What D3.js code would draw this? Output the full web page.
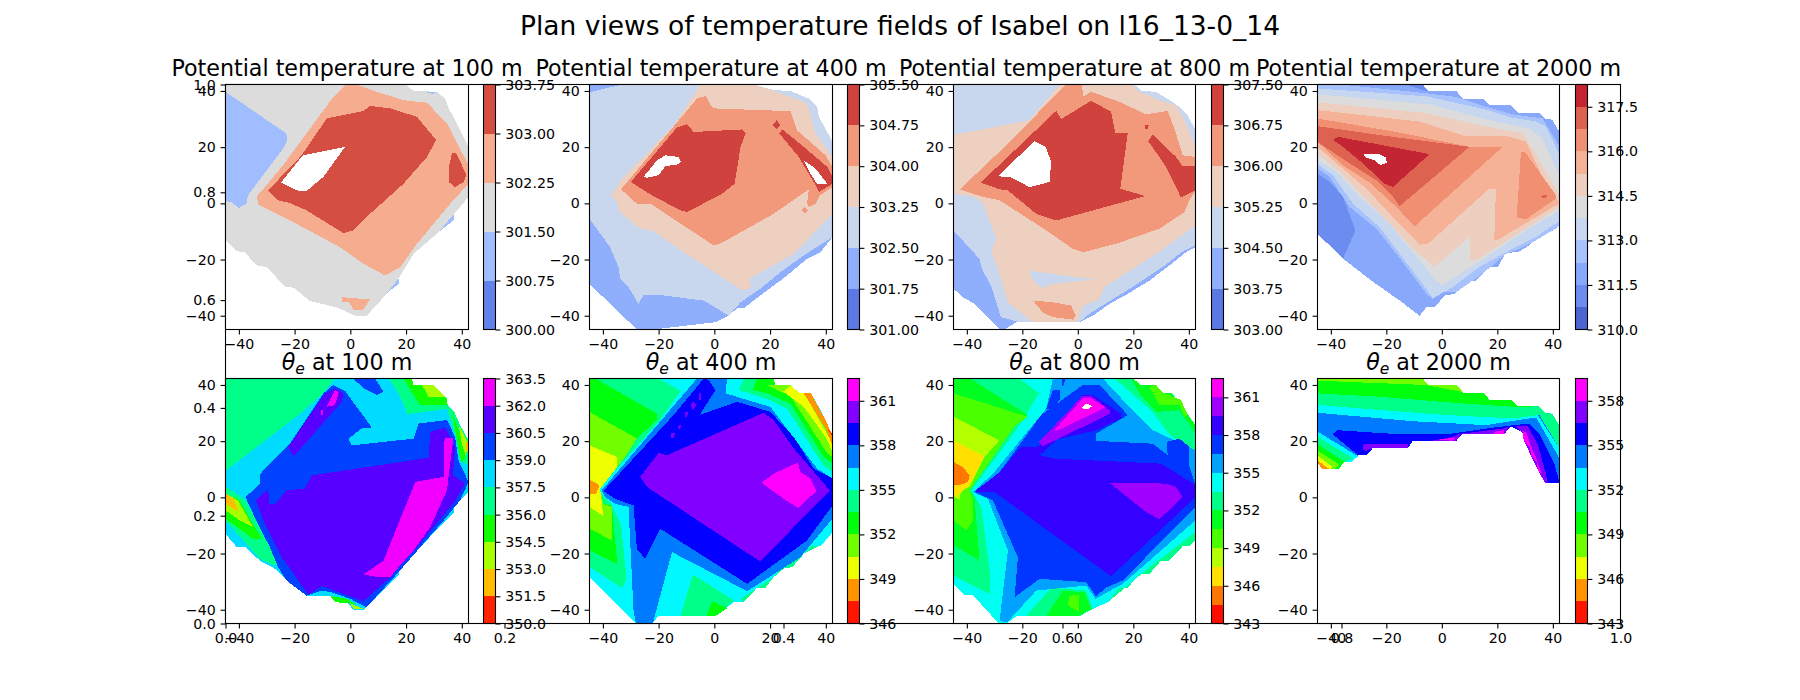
<!DOCTYPE html>
<html>
<head>
<meta charset="utf-8">
<script src="https://cdn.jsdelivr.net/npm/d3@7"></script>
<style>
  body { margin: 0; background: #fff; }
  text { font-family: "DejaVu Sans", sans-serif; fill: #000; }
  .tick line, .frame { stroke: #000; stroke-width: 1.1px; }
  .tick text { font-size: 14.2px; }
  .frame { fill: none; }
  .band { shape-rendering: crispEdges; }
</style>
</head>
<body>
<svg id="fig" width="1800" height="700"></svg>
<script>
// contour levels
var levelsT100 = [300, 300.75, 301.5, 302.25, 303, 303.75];
var levelsT400 = [301, 301.75, 302.5, 303.25, 304, 304.75, 305.5];
var levelsT800 = [303, 303.75, 304.5, 305.25, 306, 306.75, 307.5];
var levelsT2000 = [310, 310.75, 311.5, 312.25, 313, 313.75, 314.5, 315.25, 316, 316.75, 317.5, 318.25];
var levelsE100 = [350, 351.5, 353, 354.5, 356, 357.5, 359, 360.5, 362, 363.5];
var levelsE400 = [346, 347.5, 349, 350.5, 352, 353.5, 355, 356.5, 358, 359.5, 361, 362.5];
var levelsE800 = [343, 344.5, 346, 347.5, 349, 350.5, 352, 353.5, 355, 356.5, 358, 359.5, 361, 362.5];
var levelsE2000 = [343, 344.5, 346, 347.5, 349, 350.5, 352, 353.5, 355, 356.5, 358, 359.5];

var ticksT100 = levelsT100;
var ticksT400 = levelsT400;
var ticksT800 = levelsT800;
var ticksT2000 = [310, 311.5, 313, 314.5, 316, 317.5];
var ticksE100 = levelsE100;
var ticksE400 = [346, 349, 352, 355, 358, 361];
var ticksE800 = [343, 346, 349, 352, 355, 358, 361];
var ticksE2000 = [343, 346, 349, 352, 355, 358];

var mapTicks = [-40, -20, 0, 20, 40];
var backTicks = [0, 0.2, 0.4, 0.6, 0.8, 1];

// filled contours, painted in order: [band index, outline in km]. band -1 is missing data
var fieldT100 = [
  [2, [[-44.8,42.3],[19.7,42.3],[22.7,40],[31,39.7],[34,37.3],[35.3,33.8],[37.3,30.2],[40,24.9],[42.4,20.1],[42.4,2.3],[37.3,-3.7],[31.7,-10.2],[22.7,-18],[17.6,-26.3],[13,-32.2],[5.9,-40],[1.7,-40],[-4.9,-37],[-14.5,-34.8],[-20.3,-30],[-23.3,-29.8],[-30,-22.7],[-33.7,-22],[-37.9,-17.4],[-40.9,-17],[-44.8,-13.2]]],
  [1, [[-44.8,39.7],[-23,24.9],[-22.6,22.5],[-24.1,19.5],[-36.7,2.9],[-37.3,0],[-40,-1.7],[-42.7,0.5],[-44.8,0.8]]],
  [1, [[26.3,39.7],[31,39.7],[29.9,38.9]]],
  [1, [[37.3,-3.7],[37,-6.1],[31.7,-10.2]]],
  [1, [[17.6,-26.5],[17.3,-28.7],[12.8,-32.2]]],
  [3, [[-1.3,42.3],[2.3,42.3],[9.5,39.7],[19.1,36.7],[27.5,35.8],[34.7,28.4],[42.4,13.6],[42.4,7],[35.9,-0.1],[23.9,-14.4],[17.9,-22.7],[12.5,-25.7],[4.7,-21.5],[-3.7,-15.6],[-20.5,-6.7],[-26.5,-3.7],[-33.1,-0.4],[-33.5,2.5],[-24.1,13.6],[-6.1,37.9],[-3.1,40.9]]],
  [3, [[-3.1,-33.4],[7.1,-34.2],[4.7,-37.8],[1.1,-37.8],[-0.5,-35.2],[-3.1,-35.2]]],
  [4, [[-29.5,4.6],[-17.5,17.1],[-8.5,30.2],[4.7,32.9],[7.1,34.7],[14.3,33.8],[23.9,30.8],[30.8,22.5],[27.5,16.5],[19.1,7],[7.1,-3.7],[1.1,-9.6],[-2.5,-10.6],[-15.7,-2.5],[-21.7,0.1],[-25.9,1.1]]],
  [4, [[36.5,18],[37.9,18],[41.6,10.3],[40.7,7.6],[37.6,5.8],[35.3,7.6],[35.5,13.6]]],
  [-1, [[-24.9,7.4],[-17.1,17.1],[-1.9,20.1],[-9.7,9.4],[-15.7,4.4],[-19.3,4.6]]]
];

var fieldT400 = [
  [1, [[-44.8,42.3],[-5,42.3],[14.1,42.3],[21.3,40.3],[27.3,40],[33.9,37.3],[36.9,34.4],[37.5,30.8],[40.5,25.4],[42.4,21.9],[42.4,-12],[38.1,-17.4],[33.3,-19.7],[27.3,-24.7],[23.7,-27.5],[16.5,-32.8],[10.6,-37.3],[8.2,-37.3],[5.2,-40],[0.4,-42.3],[-21.8,-44.9],[-27.8,-44.9],[-44.8,-28.7]]],
  [2, [[-33.2,42.3],[-44.8,39.5],[-44.8,-5.5],[-37.4,-15.6],[-34.4,-22.7],[-33.8,-26.9],[-30.8,-29.8],[-27.2,-35.8],[-25.4,-32.5],[-18.2,-32.8],[-3.8,-34.6],[5.2,-40],[9.4,-35.2],[16.5,-30.4],[23.7,-24.5],[32.1,-18.5],[42.4,-12],[42.4,21.9],[40.5,25.4],[37.5,30.8],[36.9,34.4],[33.9,37.3],[27.3,40],[21.3,40.3],[14.1,42.3]]],
  [3, [[-5,42.3],[14.1,42.3],[21.3,40],[33.3,35.6],[36.3,24.9],[42.4,16.5],[42.4,-3.7],[28.5,-18],[12.4,-26.9],[13.2,-30.1],[10,-31],[1,-25.1],[-11,-17.4],[-21.8,-9.9],[-27.2,-8.8],[-34.4,-2.5],[-34.4,-0.1],[-37.1,2.9],[-32.6,9.4],[-14.6,27.5]]],
  [4, [[-33.5,5],[-6.2,37.3],[-3,38.3],[-1.4,35],[-0.2,33.8],[27.3,32.8],[29.7,26],[39.9,17.1],[42.4,13],[42.4,5.8],[37.9,2.9],[36.3,-0.1],[33.9,-1.3],[33.3,-0.1],[33.9,5],[21.3,-3.7],[2.8,-14],[-0.2,-15],[-23,-0.1],[-27.8,-0.1]]],
  [4, [[32.5,-1.3],[33.7,-2.5],[32.5,-3.7],[31.3,-2.5]]],
  [5, [[-30,7.6],[-13.4,27],[-9.8,28.2],[-7.4,25.4],[10,26.3],[11.2,24.9],[9.4,20.1],[7.3,7],[2.8,3.4],[-9.8,-3.1],[-12.2,-2.5],[-23,3.2]]],
  [5, [[22.3,29.6],[23.7,27.8],[22.3,26.3],[21,27.8]]],
  [5, [[24.3,26.4],[32.1,20.1],[40.5,13],[42.4,9.4],[42.4,7],[37.5,4],[36,7],[30.3,16.5],[23.3,24.9]]],
  [-1, [[-25.4,9.4],[-20.6,15.3],[-17.6,17.1],[-12.8,16.5],[-12,14.7],[-12.8,13.9],[-17.6,13.2],[-20,10],[-24.2,9.1]]],
  [-1, [[32.1,15.3],[36.3,12.4],[40.5,7],[36.9,6.8],[34.5,10.6]]]
];

var fieldT800 = [
  [1, [[-44.8,42.3],[20.4,42.3],[22.8,40],[28.2,39.7],[35.4,35.3],[39.6,31.4],[42.4,26],[42.4,-15.6],[39,-17.4],[33,-22.1],[25.8,-27.5],[18,-32.2],[11.4,-35.8],[5.4,-40],[0.6,-42.3],[-22.2,-42.3],[-26.4,-44.9],[-28.2,-44.9],[-37.2,-35.8],[-41.4,-33.4],[-44.8,-30.4]]],
  [2, [[-44.8,42.3],[20.4,42.3],[22.8,40],[28.2,39.7],[35.4,35.3],[39.6,31.4],[42.4,26],[42.4,-15],[37.9,-17],[31.9,-21.7],[24.7,-26.5],[18.7,-30.4],[10.8,-35.2],[4.2,-39.3],[0.6,-42.3],[-21,-42.3],[-27.7,-40.5],[-31.3,-29.2],[-34.3,-23.9],[-35.5,-19.7],[-44.8,-9.7]]],
  [3, [[-44.8,24.3],[-17.4,29.6],[-6.6,42.3],[19.8,42.3],[21,40.3],[29.4,36.7],[35.4,35],[39,28.4],[42.4,20.1],[42.4,-7.8],[30,-16.8],[9.6,-29.8],[7.8,-34],[1.8,-36.6],[0.6,-40],[-0.6,-42.3],[-16.2,-42.3],[-25.2,-35.2],[-28.2,-25.1],[-31.2,-16.8],[-29.4,-12.6],[-34.2,-0.1],[-37.2,2.3],[-44.8,3.4]]],
  [2, [[-18,-23.9],[5.4,-27.1],[-9,-28.7],[-12.6,-30.1],[-15.6,-28.1]]],
  [4, [[-16.2,-34.6],[-9,-35.2],[-2.4,-36.4],[-0.8,-40],[-1.8,-41.4],[-9,-40.5],[-12.6,-38.8]]],
  [4, [[-42.6,4.9],[-27,19.5],[-4.2,42.3],[1.6,42.3],[1.8,37.9],[4.8,39.7],[15,36.1],[24.6,31.7],[32.4,32.9],[34.8,26.6],[37.8,17.1],[42.4,16.5],[42.4,4.6],[40.2,1.1],[38.4,-3.1],[29.4,-9],[13.8,-14.4],[1.8,-17.4],[-1.8,-16.2],[-11.4,-9.6],[-28.2,1.1],[-34.2,2.3]]],
  [5, [[-35,7.4],[-7.8,32.9],[-6,30],[4.8,36.5],[12,32.6],[13.5,24.9],[18,25.1],[15.3,5.2],[24.3,2.6],[-7.8,-6.1],[-15,-3.7],[-25.2,4.6],[-28.2,5]]],
  [5, [[27,24.5],[35.4,16.5],[37.8,13.2],[42.4,13.3],[42.4,4.6],[37.2,2],[31.8,13],[25.4,22.1]]],
  [5, [[24.3,27.8],[25.5,27.8],[25.2,26.4],[24.3,26.4]]],
  [-1, [[-28.5,10],[-15.6,22.1],[-11.6,20.1],[-9.6,14.7],[-10.2,7.6],[-17.4,5.8],[-24.6,9.4],[-27,9.2]]]
];

var fieldT2000 = [
  [2, [[-44.8,42.3],[-6.8,42.3],[-5,40],[5.2,40],[7.6,37.3],[15,37.3],[17.1,35],[24.9,35],[27.3,32.3],[34.9,32.3],[37.2,30],[39.7,29.8],[42.4,25.4],[42.4,-7.8],[39.9,-9.9],[36.3,-10.2],[31.5,-15],[27.3,-17.4],[23.1,-17.6],[20.1,-22.7],[17.1,-22.7],[12.4,-27.5],[8.2,-27.5],[4.6,-32.2],[1,-32.8],[-2.6,-37],[-5.6,-37],[-8,-40],[-15.2,-34.6],[-25.4,-27.5],[-35.6,-19.7],[-44.8,-10.8]]],
  [1, [[-44.8,10.6],[-40.3,7.6],[-35.6,2.3],[-31.1,-9.6],[-35.6,-19.7],[-44.8,-10.8]]],
  [1, [[-12.8,42.3],[-6.8,42.3],[-5,40],[-6.8,40.3]]],
  [3, [[-44.8,42.3],[-36.6,42.3],[-10.4,39.7],[5.2,37.9],[15.9,34.4],[25.5,31.7],[36.3,30.2],[42.4,20.1],[42.4,-7.8],[39.9,-9.6],[33.9,-13.2],[27.9,-16.2],[23.1,-18],[18.3,-22.1],[12.9,-26.3],[5.2,-31.6],[0.4,-31.6],[-3.2,-34],[-5.6,-32.2],[-16.4,-18],[-23.6,-9],[-33.2,-1.3],[-40.4,9.4],[-44.8,12.4]]],
  [4, [[-44.8,40.9],[-5.6,38.1],[16,33.3],[25.5,30.4],[33.9,29.2],[37.5,27.4],[42.4,17.2],[42.4,-6.6],[39.9,-7.8],[33.9,-12],[24.3,-16.8],[13.5,-22.7],[3.9,-29.8],[-3.2,-33.8],[-6.8,-28.9],[-16.4,-16.4],[-22.4,-8.5],[-32,-0.1],[-39.2,10],[-44.8,13.9]]],
  [5, [[-44.8,38.8],[-4.4,35.2],[18.4,29.3],[31.6,26.6],[36.4,22.8],[42.4,9.4],[42.4,-2.5],[30.3,-9.6],[12.4,-21.5],[0,-29.2],[-2,-27.5],[-8,-20.3],[-20,-6],[-29.6,2.3],[-38,11.2],[-44.8,15.3]]],
  [6, [[-44.8,35.9],[-6.8,32.3],[18.4,26.9],[29.2,25.1],[33.9,17.4],[42.4,2.9],[42.4,-1.3],[12.4,-20.3],[10,-20.3],[10,-12],[-2.6,-22.5],[-10.4,-16.2],[-17.5,-8.5],[-28.3,2.3],[-36.7,11.2],[-44.8,17.7]]],
  [7, [[-44.8,33.2],[-8,29.1],[8.8,23.8],[23.1,24],[30.3,22],[36.3,9.4],[42.4,0],[20.1,-13],[18.9,-13],[19.5,5],[17.1,5.2],[-5,-14.4],[-8,-14.7],[-17.6,-4.9],[-27.2,5.2],[-35.6,12.4],[-44.8,20.1]]],
  [8, [[-44.8,30.2],[-16.4,25.4],[10,20.1],[21.9,20.1],[-9.8,-8.2],[-16.4,-1.3],[-26,7.4],[-35.6,13.5],[-44.8,21.9]]],
  [8, [[28.5,18.3],[30.1,18.1],[41.1,2.9],[41.1,1.7],[30.3,-5.7],[27,-4.9]]],
  [9, [[-44.8,27.5],[-22.4,24.3],[10,20.1],[-15.2,-1],[-17.6,2.3],[-23.6,8.2],[-33.2,14.2],[-44.8,21.9]]],
  [9, [[35.7,2.6],[37.5,3.1],[38.1,2.3],[36.3,1.7]]],
  [10, [[-39.2,22.5],[-37.4,23.7],[-4.4,17.5],[-17.6,5.8],[-20.6,7],[-28.4,14.2],[-35.6,20.1]]],
  [-1, [[-28.2,17.7],[-22.4,17.5],[-20.3,16.5],[-19.7,14.4],[-22.1,13.6],[-24.2,15.3],[-27.8,16.5]]]
];

var fieldE100 = [
  [5, [[-44.8,42.3],[22.1,42.3],[22.7,40],[29.9,40],[34.7,35.2],[34.9,32.8],[37.3,30.4],[39.4,25.7],[42.4,20.3],[42.4,1.9],[37.3,-3.4],[37.3,-5.2],[23.9,-18.9],[17.3,-26],[17.3,-27.8],[4.7,-40],[1.1,-40],[-1.3,-37.3],[-5.5,-37.3],[-7.3,-35],[-15.7,-35],[-22.9,-29.6],[-27.1,-25.4],[-32.5,-22.5],[-37.9,-17.5],[-40.9,-17.5],[-44.8,-13]]],
  [4, [[-44.8,42.3],[-5.8,42.3],[-9.7,37],[-18,29.8],[-44.8,9.4]]],
  [4, [[13.7,42.3],[22.1,42.3],[22.7,40],[29.9,40],[34.7,35.2],[34.9,32.8],[37.3,30.4],[39.4,25.7],[42.4,20.3],[42.4,11.4],[39.4,13.2],[38.2,20.3],[35.8,28],[34.7,31.5],[20.3,29.6],[19.7,31.7],[17.3,37]]],
  [3, [[19.1,42.3],[22.1,42.3],[22.7,40],[26.3,40],[34.7,35.2],[34.9,32.8],[31.1,32.8],[25.1,32.8],[22.7,36.4]]],
  [2, [[25.7,40],[29.9,40],[34.1,35.8],[28.1,35.8]]],
  [3, [[36.5,30.4],[37.7,26.9],[40,21.5],[41.3,14.4],[40,12],[38.9,16.8]]],
  [2, [[38.9,25.7],[41.8,20.3],[42.4,18],[41.3,15],[40,19.1]]],
  [1, [[41.5,19.7],[42.4,19.7],[42.4,16.8],[41.8,15.6]]],
  [4, [[-44.8,3.7],[-37.3,-1.1],[-27.7,-20.1],[-25.3,-23.7],[-27.1,-24.3],[-32.5,-21.9],[-44.8,-8.2]]],
  [3, [[-44.8,1.3],[-39.7,-1.1],[-31.9,-14.7],[-34.9,-14.7],[-44.8,-7.6]]],
  [2, [[-44.8,1.3],[-40.3,-1.1],[-34.9,-10.6],[-39.7,-8.2],[-44.8,-4.6]]],
  [1, [[-44.8,1.3],[-42,-0.5],[-39.9,-5.2],[-44.8,-2.3]]],
  [3, [[-7.3,-35],[-1.3,-36.1],[1.7,-37.9],[-5.5,-37.3]]],
  [2, [[-0.1,-37.7],[4.7,-39.7],[1.1,-39.7]]],
  [6, [[1.1,42.3],[8.9,42.3],[11.9,37.6],[9.5,36.4],[4.7,38.8]]],
  [6, [[-37.6,0.1],[-32.3,4.9],[-32.5,8.2],[-21.7,19.1],[-9.7,37],[-6.1,40],[-1.9,37.9],[0.5,34.6],[7.7,24.9],[4.1,24.5],[-0.7,20.9],[0.5,18.5],[22.7,20.9],[24.5,26.3],[34.7,27.5],[37.6,21.5],[38.8,13.2],[42.4,5.5],[39.4,-1.1],[33.5,-8.2],[17.3,-26.6],[5.9,-39.1],[-0.1,-36.1],[-6.7,-33.8],[-10.3,-33.2],[-15.7,-35],[-22.9,-29.6],[-25.9,-24.9],[-28.9,-17.7],[-32.5,-10.6],[-36.1,-3.4]]],
  [7, [[-33.9,-1.1],[-29.5,2.9],[-29.1,-2.5],[-27.1,-2.5],[-22.9,2.5],[-16.3,3.1],[-13.9,7.8],[28.1,14.1],[28.7,23.3],[34.1,24.9],[37.6,18],[36.8,7.8],[41.2,5.1],[37.3,-1.7],[23.9,-17.7],[13.7,-29],[4.7,-37],[2.3,-36.1],[-7.3,-32.6],[-10.3,-31.6],[-15.1,-34.7],[-21.1,-26],[-24.7,-21.3],[-30.7,-9.4]]],
  [7, [[-22.3,18],[-9.1,37],[-5.5,38.8],[-2.5,37],[-3.1,34],[-20.5,14.4]]],
  [8, [[4.7,-27.5],[11.9,-22.5],[23.3,5.5],[33.5,7.3],[33.5,19.1],[34.1,21.3],[37,21],[35.3,7.8],[34.7,2.5],[28.7,-10.6],[22.7,-18.9],[17.3,-24.9],[14.3,-28.5],[10.7,-28.5]]],
  [8, [[-7.3,34.6],[-5.5,38.2],[-4.1,37.6],[-5.5,32.8],[-8.5,32.2]]],
  [8, [[-10.6,31],[-9.7,31],[-9.7,29.3],[-10.6,29.3]]]
];

var fieldE400 = [
  [6, [[-44.8,42.3],[21.3,42.3],[21.9,40],[27.3,40],[30.3,37.3],[34.5,37.3],[37.5,32.2],[39.9,27.5],[42.4,22.1],[42.4,-12.4],[38.1,-17.4],[34.5,-17.4],[27.9,-24.9],[23.7,-25.4],[18.3,-32.2],[15.3,-32.2],[10.6,-37.3],[7,-37.3],[0.4,-42.3],[-20,-42.3],[-22.4,-44.9],[-28.1,-44.9],[-44.8,-28.4]]],
  [5, [[-44.8,42.3],[-19.9,42.3],[-12.2,37.9],[-19.4,27.5],[-32.3,13.2],[-41.9,2.5],[-37.1,-2.3],[-33.5,-9.4],[-31.5,-29],[-33.2,-32.2],[-44.8,-24.8]]],
  [4, [[-44.8,42.3],[-42.7,42.3],[-20.6,29.8],[-20.6,27.5],[-27.8,21],[-32,14.4],[-41,3.1],[-39.8,-2.3],[-36.8,-2.9],[-34.8,-23.7],[-44.8,-18.9]]],
  [3, [[-44.8,30.4],[-27.8,21],[-32,14.4],[-41,3.1],[-39.8,-2.3],[-36.8,-3.4],[-36.8,-15.3],[-44.8,-11.2]]],
  [2, [[-44.8,18.5],[-35,14.4],[-34.8,10.8],[-41,3.1],[-39.8,-6.7],[-44.8,-3.4]]],
  [1, [[-44.8,6.4],[-41.2,4.3],[-42.4,1.3],[-44.8,1.1]]],
  [5, [[10.6,42.3],[21.3,42.3],[21.9,40],[27.3,40],[30.3,37.3],[34.5,37.3],[39.9,27.5],[42.4,22.1],[42.4,9],[39.2,11.4],[35.6,16.8],[26,31.7],[20,34.6],[8.8,38.2]]],
  [4, [[15.3,42.3],[21.3,42.3],[21.9,40],[27.3,40],[30.3,37.3],[34.5,37.3],[39.9,27.5],[42.4,22.1],[42.4,12],[39.2,14.4],[27.3,33.4],[18.9,37],[13.8,38.2]]],
  [3, [[18.9,40],[27.3,40],[30.3,37.3],[34.5,37.3],[39.9,27.5],[42.4,22.1],[42.4,14.4],[40.5,15.6],[26.7,37],[25,37]]],
  [2, [[24.7,37.6],[27.3,39.8],[30.3,37.3],[32.1,37.3],[42.4,19.1],[42.4,16.2],[39.9,21.5],[32.1,32.2]]],
  [1, [[30.7,37.3],[34.5,37.3],[39.9,27.5],[42.4,22.1],[42.4,18.5],[39.9,24.5],[32.1,37]]],
  [0, [[39.9,25.1],[42.4,22.7],[42.4,21.8]]],
  [5, [[-7.7,-27.5],[7,-36.7],[0.4,-42.3],[-12.2,-42.3]]],
  [4, [[-0.8,-37],[4.6,-39.4],[0.4,-42.3],[-2.9,-42.3]]],
  [5, [[9.4,-36.1],[21.3,-28.4],[29.7,-21.3],[38.1,-17.1],[34.5,-17.4],[27.9,-24.9],[23.7,-25.4],[18.3,-32.2],[15.3,-32.2],[10.6,-37.3]]],
  [7, [[-40.4,2.5],[-17,29.8],[-6.2,42.3],[4.6,42.3],[4,37],[20.1,32.2],[36.9,10.2],[42.4,6.7],[42.4,-7.6],[30.9,-21.3],[11.8,-33.4],[-15.2,-19.5],[-22.1,-44.9],[-28.1,-44.9],[-29,-40.3],[-30.8,-3.4],[-35.6,-2.3],[-39.2,0.1]]],
  [8, [[-39.8,2.3],[-14.6,29.3],[-3.8,42.3],[-2,41.7],[0.4,38.2],[-5.3,29.3],[8.2,34],[20.1,30.4],[28.5,21.5],[35.7,10.2],[42.4,6.7],[42.4,-2.9],[33.3,-15.3],[11.8,-30.8],[-19.4,-11.2],[-24.8,-21.9],[-27.8,-18.3],[-29,-2.9],[-35.6,-0.5]]],
  [9, [[-26.6,7.3],[-20,15.8],[-17,15],[17.7,30.1],[21.3,27.5],[28.5,17.4],[41.4,2.5],[16.5,-22.8],[14.1,-21.3],[-24.2,3.7]]],
  [9, [[-15.6,22.7],[-14,23.1],[-14.6,21.3],[-15.6,21.3]]],
  [9, [[-12.8,25.7],[-12.1,25.7],[-12.2,24.5],[-13.1,24.5]]],
  [9, [[-10.4,30.4],[-9.4,30.4],[-9.8,28.7],[-10.4,28.7]]],
  [9, [[-7.7,34],[-6.5,32.8],[-7.7,31],[-8.6,32.8]]],
  [9, [[-5.6,37],[-4.7,37],[-4.7,34.6],[-5.6,34.6]]],
  [10, [[16.9,5.2],[21.3,8.4],[30,12.4],[30.9,9],[34.5,6.7],[36.7,2.3],[30,-3.8],[24.9,-0.5]]]
];

var fieldE800 = [
  [7, [[-44.8,42.3],[19.8,42.3],[22.8,40],[28.2,40],[30.6,37.3],[33.6,37.3],[36,34.6],[37.8,32.2],[39.6,29.6],[42.4,25.7],[42.4,-15.3],[40.2,-17.4],[37.8,-17.4],[33,-22.5],[30,-22.5],[25.8,-27.3],[22.2,-27.3],[18,-32.2],[15,-32.2],[10.8,-37.3],[5.4,-39.7],[0.6,-42.3],[-22.2,-42.3],[-25.6,-44.9],[-28.5,-44.9],[-37.8,-34.8],[-40.8,-34.8],[-44.8,-30.8]]],
  [6, [[-44.8,42.3],[-21,42.3],[-14,37],[-22.2,23.9],[-38.4,2.5],[-34.8,-3.4],[-31.8,-26],[-31.8,-34.4],[-44.8,-27.8]]],
  [5, [[-44.8,42.3],[-38.9,42.3],[-18,29.3],[-22.8,25.7],[-39,2.5],[-37.2,-0.5],[-35.4,-22.5],[-44.8,-17.1]]],
  [4, [[-44.8,37],[-18,28.7],[-22.8,25.3],[-39,2.5],[-37.8,-0.5],[-37.8,-8.2],[-40.2,-11.8],[-44.8,-8.2]]],
  [3, [[-44.8,28.7],[-28.2,20.3],[-33.6,14.4],[-39,3.7],[-42,2.5],[-42.6,-0.8],[-44.8,0.1]]],
  [2, [[-44.8,20.1],[-33.6,14.6],[-39,4.3],[-41.4,2.5],[-42.6,1.3],[-44.8,0.1]]],
  [1, [[-44.8,12.6],[-41.4,10.8],[-39,7.8],[-39.6,5.5],[-42.6,4.3],[-44.8,4.3]]],
  [6, [[13.2,42.3],[19.8,42.3],[22.8,40],[28.2,40],[30.6,37.3],[33.6,37.3],[39.6,29.6],[42.4,25.7],[42.4,15.6],[33,22.5],[27,30.4],[17.4,38.8]]],
  [5, [[19.2,42.3],[19.8,42.3],[22.8,40],[28.2,40],[30.6,37.3],[33.6,37.3],[39.6,29.6],[42.4,25.7],[42.4,22.7],[36.6,31],[28.2,30.4],[22.2,37]]],
  [4, [[25.8,39.4],[28.2,40],[30.6,37.3],[37.2,34.6],[39.6,29.3],[38.4,28.7],[36.6,32.8],[29.4,32.8]]],
  [6, [[-18.6,-42.3],[-9.6,-32.2],[3,-33.2],[5.4,-39.7],[0.6,-42.3]]],
  [5, [[-11.4,-42.3],[-5.4,-33.2],[2.4,-33.8],[4.8,-39.7],[0,-42.3]]],
  [4, [[-3.6,-38.5],[-3,-35],[0.6,-34.7],[0.6,-40.9]]],
  [6, [[10.8,-37.3],[25.8,-24.9],[42.4,-12.4],[42.4,-15.3],[40.2,-17.4],[37.8,-17.4],[33,-22.5],[30,-22.5],[25.8,-27.3],[22.2,-27.3],[18,-32.2],[15,-32.2]]],
  [8, [[-37.8,1.9],[-30.6,8.4],[-11.4,31.6],[-9,42.3],[9,42.3],[17.4,33.4],[27,23.9],[42.4,16.8],[42.4,-8.2],[16.2,-30.8],[6.4,-36.1],[3,-31.4],[-15,-33.2],[-25.5,-44.5],[-28.2,-43.9],[-25.2,-18.9],[-32.4,-0.5]]],
  [9, [[-37.2,1.9],[-28.2,9],[-13.2,29.3],[1.8,40],[7.8,40],[18,29.3],[6.6,22.7],[6.6,20.1],[27,19.1],[32.4,15],[32,19.7],[36.6,20.9],[40.2,18],[40.2,10.8],[42.4,4.3],[42.4,-3.4],[16.2,-29.6],[10,-32.2],[6.6,-35.3],[3,-30.2],[-13.8,-29],[-22.8,-35.6],[-21.6,-21.3],[-30.6,-1.1]]],
  [9, [[-9,38.2],[-6.6,38.2],[-6.6,34.6],[-9.6,31],[-11.4,31.6]]],
  [9, [[-5.6,42.3],[-4.4,42.3],[-5.2,39.7],[-5.6,39.7]]],
  [10, [[-37.2,2.1],[-28.2,8.8],[-20.4,18],[-15,18],[-7.8,20.3],[-13.8,15],[-9,13.8],[30,12],[42.4,4.3],[42.4,0.1],[12,-28.1],[-30,1.9]]],
  [10, [[-13.8,19.1],[1.8,36.4],[5.4,36.4],[15.6,29.8],[15.6,28.1],[6.6,23.9],[-9,20.3],[-13.2,18]]],
  [11, [[-14,19.7],[1.8,36.2],[4.8,36.2],[11.4,31],[11.7,29.8],[-12.6,18.2]]],
  [11, [[11.4,5.2],[31.8,4.9],[35.4,3.7],[37.8,0.1],[29.4,-7.8],[24.6,-5.2]]],
  [12, [[-8.4,23.9],[1.8,35.2],[4.8,35.2],[10,32],[-8.4,23.3]]],
  [-1, [[1.6,32.2],[3,33.4],[5.2,32.5],[3.6,31.4],[1.8,31.6]]]
];

var fieldE2000 = [
  [7, [[-44.8,42.3],[-6.8,42.3],[-5,40],[5.2,40],[7.6,37.3],[15,37.3],[17.1,34.8],[24.9,34.8],[27.3,32.4],[34.9,32.4],[37.2,30.1],[39.7,29.8],[42.4,25.7],[42.4,5.2],[37.2,5.2],[37,7.9],[34.6,9.7],[34.2,12.6],[32.2,14.7],[31.8,17.8],[29.5,20.2],[29.2,23],[25,25.2],[22.6,22.7],[7.6,22.7],[5.2,20.1],[-10.4,20.1],[-12.2,17.6],[-24.8,17.6],[-27.2,15],[-30.2,15],[-32.6,12.6],[-35,12.6],[-37.4,10],[-43.4,10.3],[-44.8,12.6]]],
  [8, [[-39.4,22.5],[-37.6,23.9],[-17.7,22.6],[1.5,22.4],[18.3,24.8],[31.5,26.3],[35.1,22.8],[40.5,12.2],[42.4,5.2],[37.2,5.2],[34.6,9.7],[32.2,14.7],[29.5,20.2],[29.2,23],[25,25.2],[22.6,22.7],[7.6,22.7],[5.2,20.1],[-10.4,20.1],[-12.2,17.6],[-24.8,17.6],[-27.2,15],[-30.2,15]]],
  [9, [[-28.4,18.8],[-12.2,19.1],[-12.2,17.6],[-24.8,17.6],[-27,16.6],[-28.4,16.8]]],
  [9, [[-3.2,20.3],[2.8,21.3],[7,22.7],[5.2,20.1],[-3.2,20.1]]],
  [9, [[7.6,22.7],[21.9,24.5],[24.3,25.3],[22.6,22.7]]],
  [9, [[26.7,25.3],[30.9,25.5],[34.5,19.1],[37.5,8.4],[38.1,5.2],[37.2,5.2],[34.6,9.7],[32.2,14.7],[29.5,20.2],[29.2,23]]],
  [10, [[28.8,23.9],[30.5,23],[32.2,18],[33.7,14.7],[35,11],[36.5,8],[34.6,9.7],[34.2,12.6],[32.2,14.7],[31.8,17.8],[29.5,20.2],[29.2,23]]],
  [10, [[18.9,23.3],[22.5,23.9],[22.6,22.7],[19,22.7]]],
  [10, [[-0.8,20.6],[5.2,21.3],[4,20.1]]],
  [6, [[-44.8,32.9],[-22.4,31.1],[1.5,29.3],[25.5,28.1],[31.5,29.3],[34.5,29.3],[42.4,17.5],[42.4,13.9],[34.2,28.1],[31.5,28.1],[15.9,25.7],[-10.4,27.1],[-44.8,30.1]]],
  [5, [[-44.8,37],[-22.4,35.8],[7.6,33.4],[26.7,32.2],[34.9,32.4],[37.2,30.1],[39.7,29.8],[42.4,25.7],[42.4,17.5],[35.1,29.3],[25.5,28.1],[1.5,29.3],[-22.4,31.1],[-44.8,32.9]]],
  [4, [[-44.8,41.5],[-5,40],[5.2,40],[7.6,37.3],[15,37.3],[17.1,34.8],[24.9,34.8],[27.3,32.4],[34.9,32.4],[26.7,32.2],[7.6,33.4],[-22.4,35.8],[-44.8,37]]],
  [3, [[-44.8,41.5],[-44.8,42.3],[-6.8,42.3],[-5,40],[5.2,40],[7.6,37.5],[-6.1,40]]],
  [6, [[-44.8,23.4],[-30.2,14.6],[-32.6,12.6],[-35,12.6],[-37.4,10],[-43.4,10.3],[-44.8,12.6]]],
  [5, [[-44.8,21.6],[-31.8,13.8],[-35,12.6],[-37.4,10],[-43.4,10.3],[-44.8,12.6]]],
  [4, [[-44.8,19],[-35,12.6],[-37.4,10],[-43.4,10.3],[-44.8,12.6]]],
  [3, [[-44.8,16.6],[-37,11.8],[-38.6,10],[-43.4,10.3],[-44.8,12.6]]],
  [2, [[-44.8,14.8],[-39.3,10.8],[-40.4,10],[-43.4,10.3],[-44.8,12.6]]],
  [1, [[-44.8,13.2],[-41.6,10.8],[-40.4,10],[-43.4,10.3],[-44.8,12.6]]]
];

var titlesTop = ['Potential temperature at 100 m', 'Potential temperature at 400 m', 'Potential temperature at 800 m', 'Potential temperature at 2000 m'];
var titlesBottom = ['at 100 m', 'at 400 m', 'at 800 m', 'at 2000 m'];

// colormaps, stops taken from matplotlib
var coolwarm = d3.scaleLinear()
    .domain([0, 0.1, 0.2, 0.3, 0.4, 0.5, 0.6, 0.7, 0.8, 0.9, 1])
    .range(['#3b4cc0', '#6282ea', '#7da0f9', '#a0beff', '#c5d6f2', '#dddcdc', '#f0cdbb', '#f6ac8e', '#ee8468', '#d44e41', '#b40426']);
var gistRainbow = d3.scaleLinear()
    .domain([0, 0.03, 0.215, 0.4, 0.586, 0.77, 0.954, 1])
    .range(['#ff0029', '#ff0000', '#ffff00', '#00ff00', '#00ffff', '#0000ff', '#ff00ff', '#ff00bf']);

var svg = d3.select('#fig');
var lefts = [225.5, 589.5, 953.5, 1317.5];
var rights = [468.5, 832.5, 1195.5, 1559.5];

d3.select(window).on('load', init);

function init() {
    // the empty axes of the whole figure sits behind the panels
    drawBackAxes();

    drawPanel(0, 0, levelsT100, ticksT100, d3.format('.2f'), fieldT100, coolwarm, titlesTop[0], false);
    drawPanel(1, 0, levelsT400, ticksT400, d3.format('.2f'), fieldT400, coolwarm, titlesTop[1], false);
    drawPanel(2, 0, levelsT800, ticksT800, d3.format('.2f'), fieldT800, coolwarm, titlesTop[2], false);
    drawPanel(3, 0, levelsT2000, ticksT2000, d3.format('.1f'), fieldT2000, coolwarm, titlesTop[3], false);
    drawPanel(0, 1, levelsE100, ticksE100, d3.format('.1f'), fieldE100, gistRainbow, titlesBottom[0], true);
    drawPanel(1, 1, levelsE400, ticksE400, d3.format('d'), fieldE400, gistRainbow, titlesBottom[1], true);
    drawPanel(2, 1, levelsE800, ticksE800, d3.format('d'), fieldE800, gistRainbow, titlesBottom[2], true);
    drawPanel(3, 1, levelsE2000, ticksE2000, d3.format('d'), fieldE2000, gistRainbow, titlesBottom[3], true);

    svg.append('text')
        .attr('x', 900)
        .attr('y', 34.5)
        .attr('text-anchor', 'middle')
        .style('font-size', '26.5px')
        .text('Plan views of temperature fields of Isabel on l16_13-0_14');
}

function styleAxis(g) {
    g.select('.domain').remove();
}

function drawBackAxes() {
    var x = d3.scaleLinear().domain([0, 1]).range([225.5, 1620.5]);
    var y = d3.scaleLinear().domain([0, 1]).range([623.5, 84.5]);
    var fmt = d3.format('.1f');

    svg.append('g')
        .attr('transform', 'translate(0,623.5)')
        .call(d3.axisBottom(x).tickValues(backTicks).tickFormat(fmt).tickSize(4.9).tickPadding(4.9))
        .call(styleAxis);
    svg.append('g')
        .attr('transform', 'translate(225.5,0)')
        .call(d3.axisLeft(y).tickValues(backTicks).tickFormat(fmt).tickSize(4.9).tickPadding(4.9))
        .call(styleAxis);
    svg.append('rect')
        .attr('class', 'frame')
        .attr('x', 225.5).attr('y', 84.5)
        .attr('width', 1395).attr('height', 539);
}

function drawPanel(col, row, levels, ticks, tickFmt, field, cmap, title, isThetaE) {
    var left = lefts[col], right = rights[col];
    var top = row == 0 ? 84.5 : 378.5;
    var bottom = row == 0 ? 329.5 : 623.5;
    var barLeft = left + 258;
    var barWidth = 12;

    var x = d3.scaleLinear().domain([-44.8, 42.4]).range([left, right]);
    var y = d3.scaleLinear().domain([-44.9, 42.3]).range([bottom, top]);
    var nBands = levels.length - 1;
    var bandColor = function(i) {
        return i < 0 ? '#fff' : cmap((i + 0.5) / nBands);
    };
    var outline = d3.line()
        .x(function(d) { return x(d[0]); })
        .y(function(d) { return y(d[1]); })
        .curve(d3.curveLinearClosed);

    var clipId = 'clip' + col + row;
    svg.append('clipPath').attr('id', clipId)
        .append('rect')
        .attr('x', left).attr('y', top)
        .attr('width', right - left).attr('height', bottom - top);

    svg.append('rect')
        .attr('x', left).attr('y', top)
        .attr('width', right - left).attr('height', bottom - top)
        .attr('fill', '#fff');

    svg.append('g')
        .attr('clip-path', 'url(#' + clipId + ')')
        .selectAll('path')
        .data(field)
        .enter()
        .append('path')
        .attr('class', 'band')
        .attr('d', function(d) { return outline(d[1]); })
        .attr('fill', function(d) { return bandColor(d[0]); });

    svg.append('g')
        .attr('transform', 'translate(0,' + bottom + ')')
        .call(d3.axisBottom(x).tickValues(mapTicks).tickSize(4.9).tickPadding(4.9))
        .call(styleAxis);
    svg.append('g')
        .attr('transform', 'translate(' + left + ',0)')
        .call(d3.axisLeft(y).tickValues(mapTicks).tickSize(4.9).tickPadding(4.9))
        .call(styleAxis);
    svg.append('rect')
        .attr('class', 'frame')
        .attr('x', left).attr('y', top)
        .attr('width', right - left).attr('height', bottom - top);

    // colour bar
    var barScale = d3.scaleLinear()
        .domain([levels[0], levels[nBands]])
        .range([bottom, top]);
    svg.append('g')
        .selectAll('rect')
        .data(d3.range(nBands))
        .enter()
        .append('rect')
        .attr('class', 'band')
        .attr('x', barLeft)
        .attr('width', barWidth)
        .attr('y', function(i) { return barScale(levels[i + 1]); })
        .attr('height', function(i) { return barScale(levels[i]) - barScale(levels[i + 1]); })
        .attr('fill', bandColor);

    svg.append('g')
        .attr('transform', 'translate(' + (barLeft + barWidth) + ',0)')
        .call(d3.axisRight(barScale).tickValues(ticks).tickFormat(tickFmt).tickSize(4.9).tickPadding(4.9))
        .call(styleAxis);
    svg.append('rect')
        .attr('class', 'frame')
        .attr('x', barLeft).attr('y', top)
        .attr('width', barWidth).attr('height', bottom - top);

    // title
    var t = svg.append('text')
        .attr('x', (left + right) / 2)
        .attr('y', top - 8.6)
        .attr('text-anchor', 'middle')
        .style('font-size', '22.2px');
    if (isThetaE) {
        t.append('tspan').style('font-style', 'italic').text('\u03b8');
        t.append('tspan').style('font-style', 'italic').style('font-size', '15.5px').attr('dy', 4).text('e');
        t.append('tspan').attr('dy', -4).text(' ' + title);
    } else {
        t.text(title);
    }
}
</script>
</body>
</html>
